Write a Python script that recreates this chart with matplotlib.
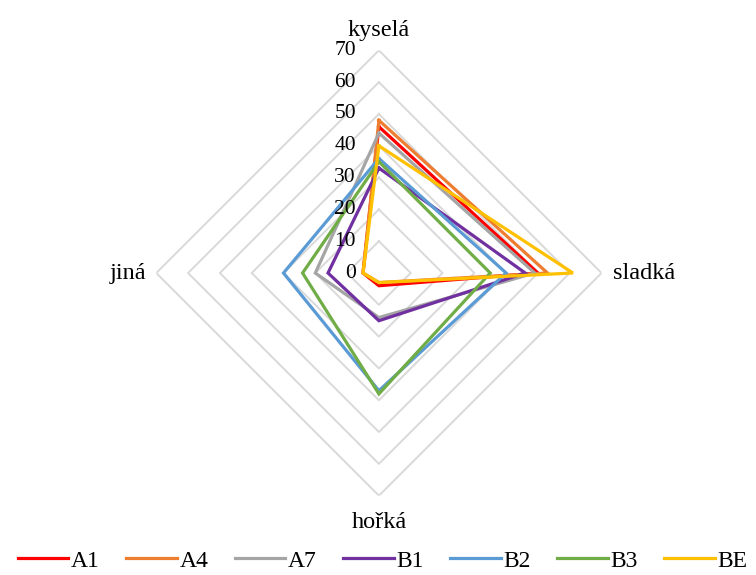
import numpy as np
import matplotlib.pyplot as plt
from matplotlib.transforms import offset_copy

plt.rcParams['font.family'] = ['Liberation Serif', 'DejaVu Serif']

categories = ['kyselá', 'sladká', 'hořká', 'jiná']
series_names = ['A1', 'A4', 'A7', 'B1', 'B2', 'B3', 'BE']
a1 = [46, 50, 4, 5]
a4 = [48, 53, 3, 5]
a7 = [44, 49, 14, 20]
b1 = [33, 46, 15, 16]
b2 = [36, 40, 37, 30]
b3 = [35, 35, 38, 24]
be = [40, 61, 3, 5]
series_values = [a1, a4, a7, b1, b2, b3, be]
colors = ['#FF0000', '#ED7D31', '#A5A5A5', '#7030A0', '#5B9BD5', '#70AD47', '#FFC000']
levels = [10, 20, 30, 40, 50, 60, 70]
tick_values = [0, 10, 20, 30, 40, 50, 60, 70]

fig = plt.figure(figsize=(7.56, 5.75), dpi=100)
ax = fig.add_axes([0.2067, 0.1379, 0.589, 0.7746], projection='polar')
ax.set_theta_offset(np.pi / 2)
ax.set_theta_direction(-1)
ax.set_ylim(0, 70)
ax.grid(False)
ax.spines['polar'].set_visible(False)
ax.set_xticks([])
ax.set_yticks([])

angles = np.arange(len(categories)) * 2 * np.pi / len(categories)
closed = np.append(angles, angles[0])

# diamond grid
for lv in levels:
    ax.plot(closed, [lv] * len(closed), color='#D9D9D9', lw=1.4, zorder=1)

for name, vals, c in zip(series_names, series_values, colors):
    ax.plot(closed, vals + vals[:1], color=c, lw=2.3, label=name, zorder=3,
            solid_joinstyle='miter')

# axis value labels
lab_tr = offset_copy(ax.transData, fig=fig, x=-23, y=0, units='dots')
for t in tick_values:
    ax.text(0, t, str(t), transform=lab_tr, ha='right', va='center',
            fontsize=15.5, color='#000000')

# category labels
ax.text(angles[0], 70, categories[0], ha='center', va='bottom', fontsize=17.5,
        transform=offset_copy(ax.transData, fig=fig, x=0, y=9, units='dots'))
ax.text(angles[1], 70, categories[1], ha='left', va='center', fontsize=17.5,
        transform=offset_copy(ax.transData, fig=fig, x=11, y=0, units='dots'))
ax.text(angles[2], 70, categories[2], ha='center', va='top', fontsize=17.5,
        transform=offset_copy(ax.transData, fig=fig, x=0, y=-16, units='dots'))
ax.text(angles[3], 70, categories[3], ha='right', va='center', fontsize=17.5,
        transform=offset_copy(ax.transData, fig=fig, x=-10, y=0, units='dots'))

fig.legend(loc='lower center', bbox_to_anchor=(0.506, -0.031), ncol=7, frameon=False,
           fontsize=17, handlelength=2.15, handletextpad=0.12, columnspacing=1.1)

fig.savefig('out.png', dpi=100)
